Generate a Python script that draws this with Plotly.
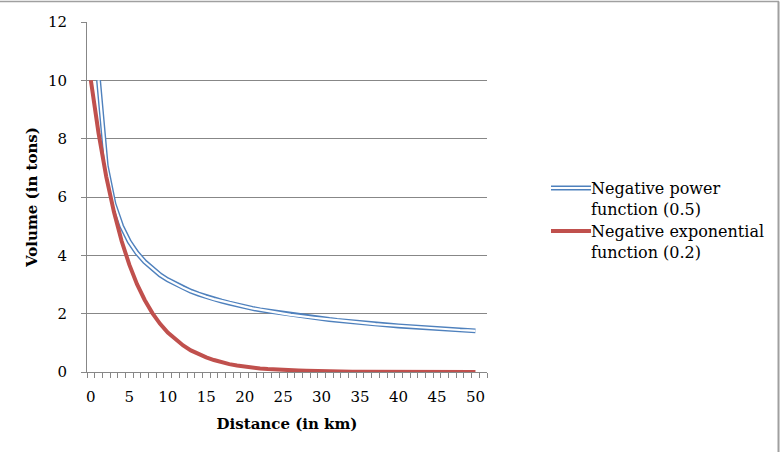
import plotly.graph_objects as go

power_x = list(range(1, 51))
power_y = [10.00, 7.07, 5.77, 5.00, 4.47, 4.08, 3.78, 3.54, 3.33, 3.16,
           3.02, 2.89, 2.77, 2.67, 2.58, 2.50, 2.43, 2.36, 2.29, 2.24,
           2.18, 2.13, 2.09, 2.04, 2.00, 1.96, 1.92, 1.89, 1.86, 1.83,
           1.80, 1.77, 1.74, 1.71, 1.69, 1.67, 1.64, 1.62, 1.60, 1.58,
           1.56, 1.54, 1.52, 1.51, 1.49, 1.47, 1.46, 1.44, 1.43, 1.41]
exp_x = list(range(0, 51))
exp_y = [10.00, 8.19, 6.70, 5.49, 4.49, 3.68, 3.01, 2.47, 2.02, 1.65,
         1.35, 1.11, 0.91, 0.74, 0.61, 0.50, 0.41, 0.33, 0.27, 0.22,
         0.18, 0.15, 0.12, 0.10, 0.08, 0.07, 0.06, 0.05, 0.04, 0.03,
         0.02, 0.02, 0.02, 0.01, 0.01, 0.01, 0.01, 0.01, 0.00, 0.00,
         0.00, 0.00, 0.00, 0.00, 0.00, 0.00, 0.00, 0.00, 0.00, 0.00, 0.00]
series_names = ["Negative power<br>function (0.5)", "Negative exponential<br>function (0.2)"]
x_tick_vals = [0, 5, 10, 15, 20, 25, 30, 35, 40, 45, 50]
y_tick_vals = [0, 2, 4, 6, 8, 10, 12]

BLUE = "#4F81BD"
RED = "#C0504D"
GRID = "#878787"
FONT = "DejaVu Serif"
FS = 15

fig = go.Figure()
fig.add_trace(go.Scatter(x=power_x, y=power_y, mode="lines",
                         line=dict(color=BLUE, width=5), showlegend=False))
fig.add_trace(go.Scatter(x=power_x, y=power_y, mode="lines",
                         line=dict(color="white", width=2.2), showlegend=False))
fig.add_trace(go.Scatter(x=exp_x, y=exp_y, mode="lines",
                         line=dict(color=RED, width=4), showlegend=False))

L, R, T, B = 87, 295, 22, 80
W, H = 782, 452
pw, ph = W - L - R, H - T - B

def px(x):
    return (x - L) / pw

def py(y):
    return (H - B - y) / ph

shapes = [
    dict(type="line", xref="paper", yref="paper", x0=px(0), x1=px(779), y0=py(1.5), y1=py(1.5),
         line=dict(color="#A0A0A0", width=1.5)),
    dict(type="line", xref="paper", yref="paper", x0=px(778.5), x1=px(778.5), y0=py(1.5), y1=py(452),
         line=dict(color="#A0A0A0", width=2)),
    dict(type="line", xref="paper", yref="paper", x0=px(551), x1=px(591), y0=py(188), y1=py(188),
         line=dict(color=BLUE, width=5)),
    dict(type="line", xref="paper", yref="paper", x0=px(551), x1=px(591), y0=py(188), y1=py(188),
         line=dict(color="white", width=2.2)),
    dict(type="line", xref="paper", yref="paper", x0=px(551), x1=px(591), y0=py(231), y1=py(231),
         line=dict(color=RED, width=4)),
]
annotations = [
    dict(text=series_names[0], xref="paper", yref="paper", x=px(589), y=py(177), xanchor="left",
         yanchor="top", showarrow=False, align="left", font=dict(family=FONT, size=16, color="black")),
    dict(text=series_names[1], xref="paper", yref="paper", x=px(589), y=py(220), xanchor="left",
         yanchor="top", showarrow=False, align="left", font=dict(family=FONT, size=16, color="black")),
]

fig.update_layout(
    width=W, height=H,
    margin=dict(l=L, r=R, t=T, b=B),
    paper_bgcolor="white", plot_bgcolor="white",
    font=dict(family=FONT, size=FS, color="black"),
    showlegend=False,
    shapes=shapes,
    annotations=annotations,
    xaxis=dict(range=[-0.5, 51.5], tickvals=x_tick_vals, ticks="", showgrid=False,
               showline=True, linecolor=GRID, linewidth=1, zeroline=False,
               ticklabelstandoff=11,
               minor=dict(tick0=-0.5, dtick=1, ticks="outside", ticklen=5, tickcolor=GRID, showgrid=False),
               title=dict(text="<b>Distance (in km)</b>", standoff=13, font=dict(family=FONT, size=FS)),
               tickfont=dict(family=FONT, size=FS)),
    yaxis=dict(range=[0, 12], tickvals=y_tick_vals, ticks="outside", ticklen=5, tickcolor=GRID,
               showgrid=True, gridcolor=GRID, gridwidth=1, showline=True, linecolor=GRID,
               ticklabelstandoff=11,
               zeroline=False, title=dict(text="<b>Volume (in tons)</b>", standoff=6,
                                          font=dict(family=FONT, size=FS)),
               tickfont=dict(family=FONT, size=FS)),
)

fig.write_html("out.html")
